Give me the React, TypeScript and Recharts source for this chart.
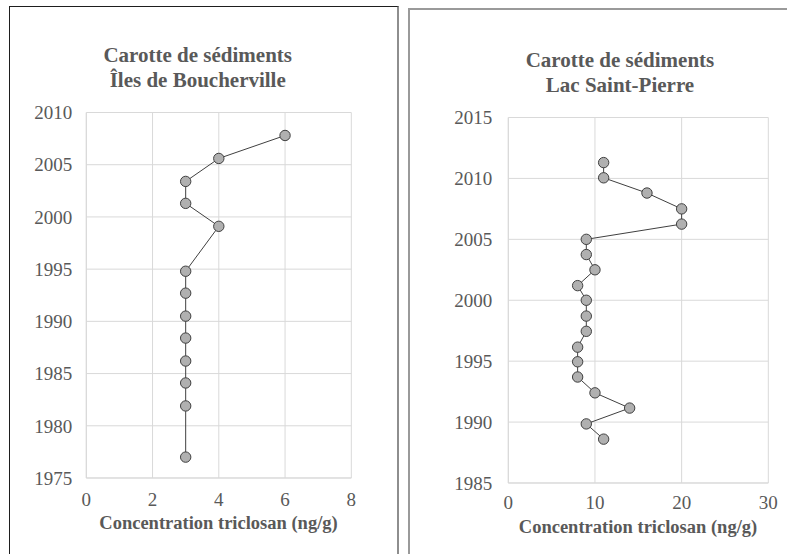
import React from 'react';
import { ScatterChart, Scatter, XAxis, YAxis, CartesianGrid } from 'recharts';

// Left core: Îles de Boucherville
const leftYears = [2007.8, 2005.6, 2003.4, 2001.3, 1999.1, 1994.8, 1992.7, 1990.5, 1988.4, 1986.2, 1984.1, 1981.9, 1977.0];
const leftConc = [6, 4, 3, 3, 4, 3, 3, 3, 3, 3, 3, 3, 3];
const leftXTicks = [0, 2, 4, 6, 8];
const leftYTicks = [1975, 1980, 1985, 1990, 1995, 2000, 2005, 2010];

// Right core: Lac Saint-Pierre
const rightYears = [2011.3, 2010.05, 2008.8, 2007.5, 2006.25, 2005.0, 2003.75, 2002.5, 2001.2, 2000.0, 1998.7, 1997.45, 1996.15, 1994.95, 1993.7, 1992.4, 1991.15, 1989.85, 1988.6];
const rightConc = [11, 11, 16, 20, 20, 9, 9, 10, 8, 9, 9, 9, 8, 8, 8, 10, 14, 9, 11];
const rightXTicks = [0, 10, 20, 30];
const rightYTicks = [1985, 1990, 1995, 2000, 2005, 2010, 2015];

const titleLine1 = 'Carotte de sédiments';
const leftTitle2 = 'Îles de Boucherville';
const rightTitle2 = 'Lac Saint-Pierre';
const xLabel = 'Concentration triclosan (ng/g)';

const FONT = '"Liberation Serif", "DejaVu Serif", "Times New Roman", serif';
const TEXT = '#595959';
const GRID = '#d9d9d9';

const Dot = (props: any) => {
  const { cx, cy } = props;
  if (cx == null || cy == null) return null;
  return <circle cx={cx} cy={cy} r={5.2} fill="#b0b0b0" stroke="#404040" strokeWidth={1} />;
};

type PanelProps = {
  years: number[];
  conc: number[];
  xTicks: number[];
  yTicks: number[];
  width: number;
  margin: { top: number; right: number; bottom: number; left: number };
  yAxisWidth: number;
  yTickMargin: number;
  xTickMargin: number;
};

const Panel = ({ years, conc, xTicks, yTicks, width, margin, yAxisWidth, yTickMargin, xTickMargin }: PanelProps) => {
  const data = years.map((y, i) => ({ x: conc[i], y }));
  return (
    <ScatterChart width={width} height={554} margin={margin} style={{ fontFamily: FONT }}>
      <CartesianGrid stroke={GRID} strokeWidth={1} horizontal vertical />
      <XAxis
        type="number"
        dataKey="x"
        domain={[xTicks[0], xTicks[xTicks.length - 1]]}
        ticks={xTicks}
        interval={0}
        tickSize={0}
        tickMargin={xTickMargin}
        axisLine={{ stroke: GRID }}
        tick={{ fill: TEXT, fontSize: 19, fontFamily: FONT }}
        height={30}
      />
      <YAxis
        type="number"
        dataKey="y"
        domain={[yTicks[0], yTicks[yTicks.length - 1]]}
        ticks={yTicks}
        interval={0}
        tickSize={0}
        tickMargin={yTickMargin}
        axisLine={{ stroke: GRID }}
        tick={{ fill: TEXT, fontSize: 19, fontFamily: FONT }}
        width={yAxisWidth}
      />
      <Scatter
        data={data}
        line={{ stroke: '#404040', strokeWidth: 1 }}
        shape={<Dot />}
        isAnimationActive={false}
      />
    </ScatterChart>
  );
};

const textStyle = (cx: number, cy: number, size: number): React.CSSProperties => ({
  position: 'absolute',
  left: cx - 200,
  width: 400,
  top: cy - 12,
  height: 24,
  lineHeight: '24px',
  textAlign: 'center',
  fontFamily: FONT,
  fontWeight: 'bold',
  fontSize: size,
  color: TEXT,
  whiteSpace: 'nowrap',
});

export default function App() {
  return (
    <div style={{ position: 'absolute', left: 0, top: 0, width: 787, height: 554, background: '#fff', overflow: 'hidden', fontFamily: FONT }}>
      {/* left panel frame */}
      <div style={{ position: 'absolute', left: 9, top: 6, width: 390, height: 600, borderLeft: '1.5px solid #1e1e1e', borderTop: '1.5px solid #1e1e1e', borderRight: '2px solid #8e8e8e', boxSizing: 'border-box' }} />
      {/* right panel frame */}
      <div style={{ position: 'absolute', left: 408, top: 8, width: 420, height: 600, borderLeft: '2px solid #9a9a9a', borderTop: '2px solid #9a9a9a', boxSizing: 'border-box' }} />

      <div style={{ position: 'absolute', left: 0, top: 0 }}>
        <Panel
          years={leftYears}
          conc={leftConc}
          xTicks={leftXTicks}
          yTicks={leftYTicks}
          width={400}
          margin={{ top: 112.5, right: 48.7, bottom: 46, left: 0 }}
          yAxisWidth={86.3}
          yTickMargin={14}
          xTickMargin={15}
        />
      </div>
      <div style={{ position: 'absolute', left: 400, top: 0 }}>
        <Panel
          years={rightYears}
          conc={rightConc}
          xTicks={rightXTicks}
          yTicks={rightYTicks}
          width={387}
          margin={{ top: 117.5, right: 18.7, bottom: 41, left: 0 }}
          yAxisWidth={108.3}
          yTickMargin={16}
          xTickMargin={13}
        />
      </div>

      <div style={textStyle(197.7, 55, 21)}>{titleLine1}</div>
      <div style={textStyle(197.7, 80, 21)}>{leftTitle2}</div>
      <div style={textStyle(218.5, 523, 18.5)}>{xLabel}</div>

      <div style={textStyle(620, 60, 21)}>{titleLine1}</div>
      <div style={textStyle(620, 84.5, 21)}>{rightTitle2}</div>
      <div style={textStyle(638, 527, 18.5)}>{xLabel}</div>
    </div>
  );
}
